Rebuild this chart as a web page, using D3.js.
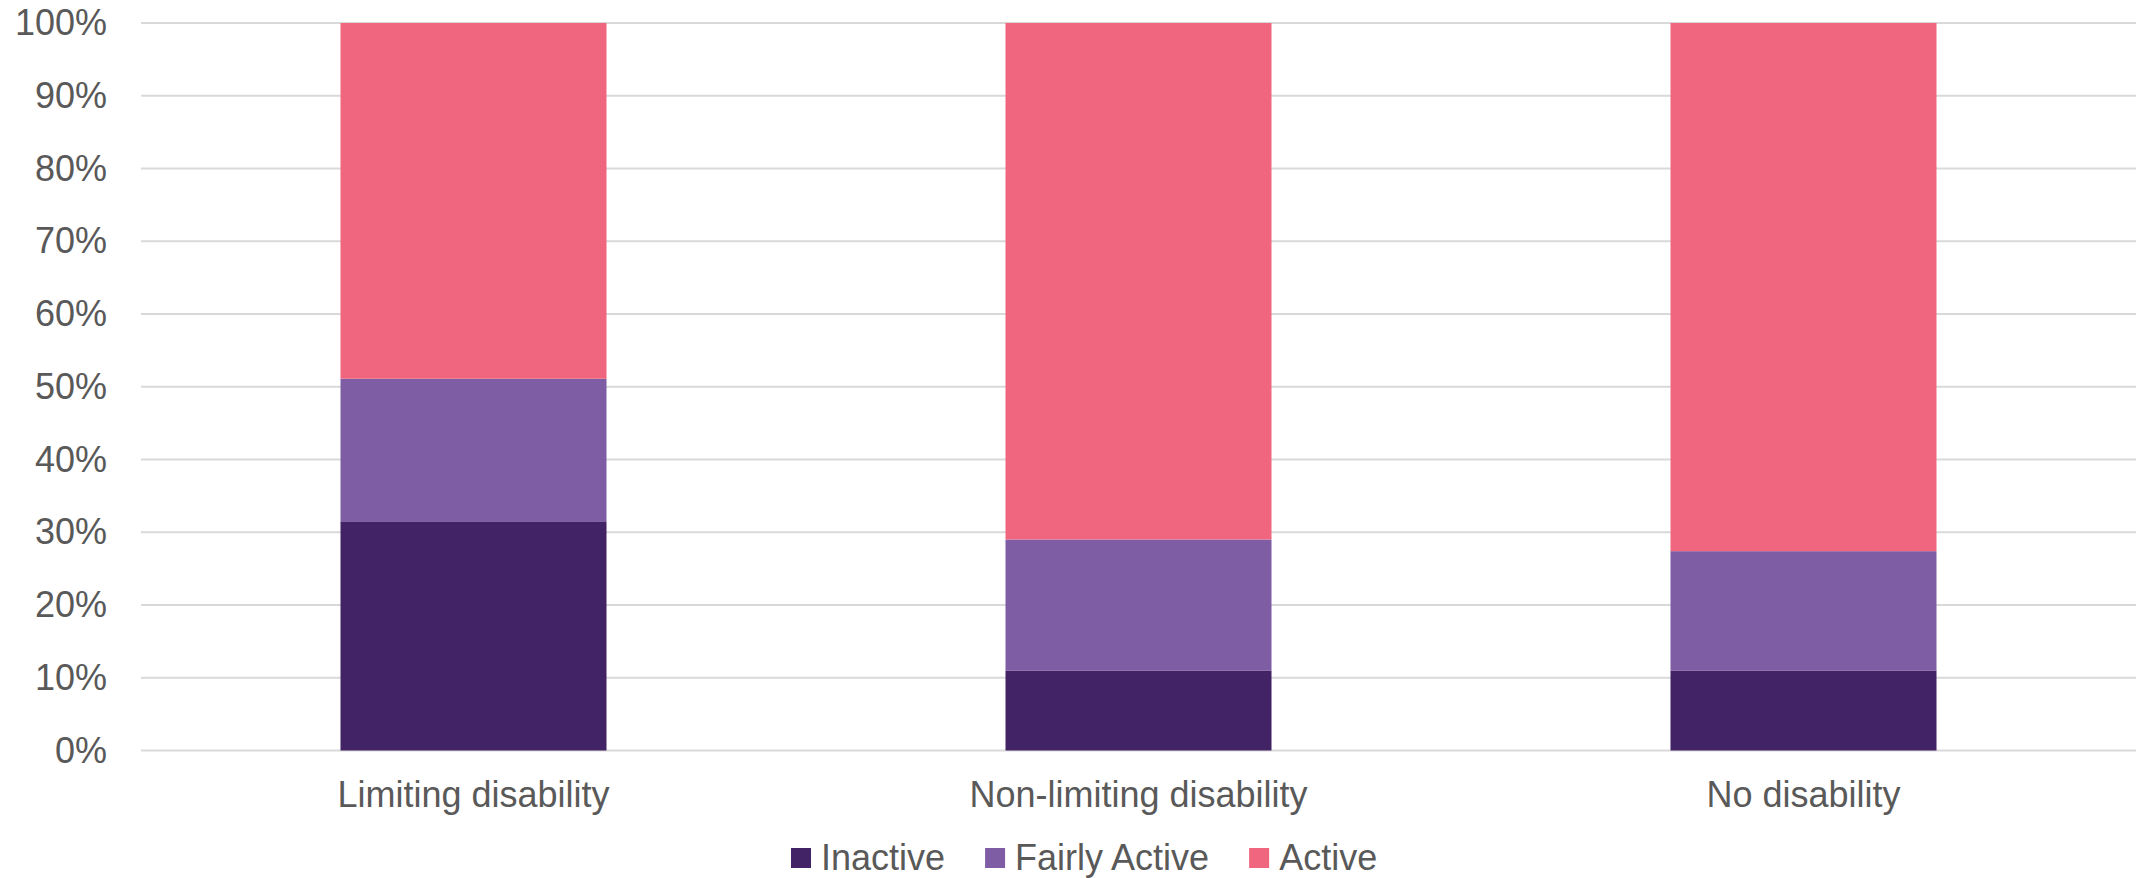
<!DOCTYPE html>
<html>
<head>
<meta charset="utf-8">
<script src="https://cdn.jsdelivr.net/npm/d3@7"></script>
<style>
  html, body { margin: 0; padding: 0; background: #fff; }
  svg { display: block; }
  text { font-family: "Liberation Sans", Arial, sans-serif; fill: #595959; }
</style>
</head>
<body>
<svg id="chart" width="2142" height="878"></svg>
<script>
// Activity level by disability status (share of each group, %)
const categories = ["Limiting disability", "Non-limiting disability", "No disability"];
const seriesNames = ["Inactive", "Fairly Active", "Active"];
const inactive = [31.5, 11.0, 11.0];
const fairlyActive = [19.6, 18.0, 16.4];
const active = [48.9, 71.0, 72.6];
const yTicks = [0, 10, 20, 30, 40, 50, 60, 70, 80, 90, 100];
const colors = ["#412366", "#7F5DA5", "#F0667F"];

const rows = categories.map((c, i) => ({
  category: c,
  "Inactive": inactive[i],
  "Fairly Active": fairlyActive[i],
  "Active": active[i]
}));

const svg = d3.select("#chart");
const margin = { left: 141, right: 6, top: 23, bottom: 128 };
const width = 2142, height = 878;

const x = d3.scaleBand()
  .domain(categories)
  .range([margin.left, width - margin.right])
  .paddingInner(0.6)
  .paddingOuter(0.3);

const y = d3.scaleLinear()
  .domain([0, 100])
  .range([height - margin.bottom + 0.5, margin.top]);

const color = d3.scaleOrdinal().domain(seriesNames).range(colors);

// Horizontal gridlines
svg.append("g")
  .selectAll("line")
  .data(yTicks)
  .join("line")
  .attr("x1", margin.left)
  .attr("x2", width - margin.right)
  .attr("y1", d => y(d))
  .attr("y2", d => y(d))
  .attr("stroke", "#D9D9D9")
  .attr("stroke-width", 2);

// Y axis labels
const yAxis = d3.axisLeft(y)
  .tickValues(yTicks)
  .tickFormat(d => d + "%")
  .tickSize(0)
  .tickPadding(34);
const yg = svg.append("g")
  .attr("transform", `translate(${margin.left},0)`)
  .call(yAxis);
yg.select(".domain").remove();
yg.selectAll("text")
  .attr("font-size", 36)
  .attr("font-family", "'Liberation Sans', Arial, sans-serif")
  .attr("fill", "#595959");

// Stacked bars
const stack = d3.stack().keys(seriesNames);
const layers = stack(rows);

svg.append("g")
  .selectAll("g")
  .data(layers)
  .join("g")
  .attr("fill", d => color(d.key))
  .selectAll("rect")
  .data(d => d)
  .join("rect")
  .attr("x", d => x(d.data.category))
  .attr("width", x.bandwidth())
  .attr("y", d => y(d[1]))
  .attr("height", d => y(d[0]) - y(d[1]));

// Category axis labels
const xAxis = d3.axisBottom(x).tickSize(0).tickPadding(0);
const xg = svg.append("g")
  .attr("transform", `translate(0,${y(0)})`)
  .call(xAxis);
xg.select(".domain").remove();
xg.selectAll("text")
  .attr("dy", null)
  .attr("y", 56)
  .attr("font-size", 36)
  .attr("font-family", "'Liberation Sans', Arial, sans-serif")
  .attr("fill", "#595959");

// Legend
const legend = svg.append("g").attr("transform", "translate(791,848)");
let offset = 0;
seriesNames.forEach(name => {
  const item = legend.append("g").attr("transform", `translate(${offset},0)`);
  item.append("rect")
    .attr("width", 20)
    .attr("height", 20)
    .attr("fill", color(name));
  const t = item.append("text")
    .attr("x", 30)
    .attr("y", 21.5)
    .attr("font-size", 36)
    .text(name);
  offset += 30 + t.node().getComputedTextLength() + 40;
});
</script>
</body>
</html>
